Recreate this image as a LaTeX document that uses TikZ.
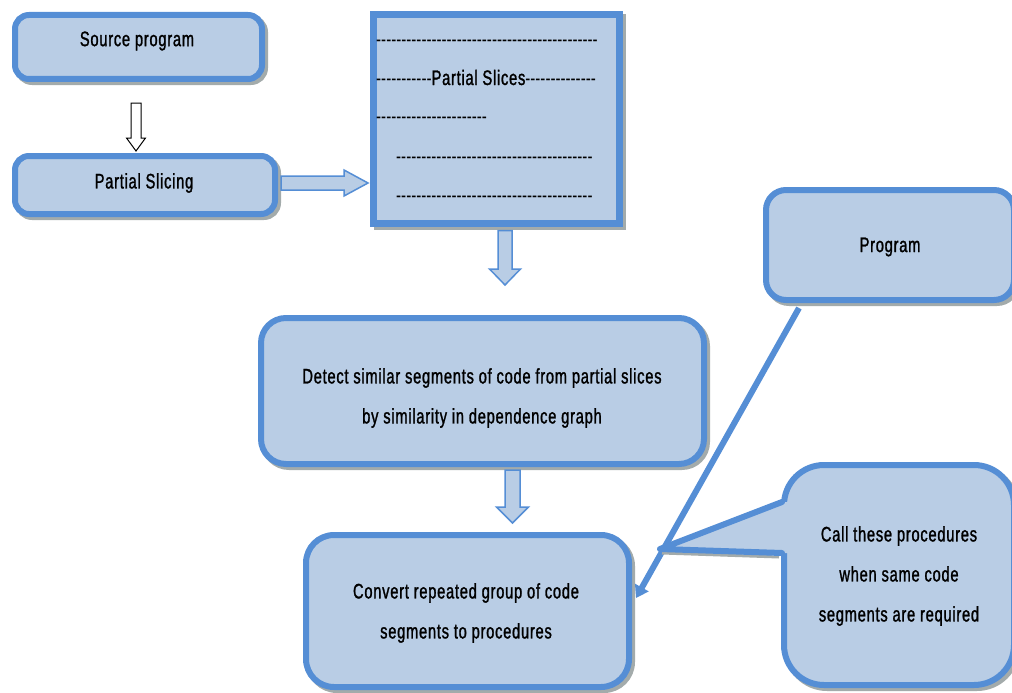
\documentclass[tikz,border=0pt]{standalone}
\usepackage{fontspec}
\setmainfont{Liberation Sans}[FakeStretch=0.70, LetterSpace=3.5, FakeBold=1.2]
\newfontfamily\dashfont{Liberation Sans}[FakeStretch=0.72]
\usetikzlibrary{calc,shadows,arrows.meta}
\definecolor{boxfill}{HTML}{B9CDE5}
\definecolor{boxline}{HTML}{558ED5}
\definecolor{shadowgray}{HTML}{A3ABAB}
% a row of single hyphens (kerns keep them from joining into dashes)
\newcount\hycount
\newcommand\hyph[1]{{\dashfont\hycount=0 \loop\ifnum\hycount<#1 -\kern0pt\advance\hycount by 1 \repeat}}
\begin{document}
\begin{tikzpicture}[x=1pt,y=-1pt,
  lbl/.style={font=\fontsize{21}{40}\selectfont, align=center, inner sep=0pt},
  dashrow/.style={font=\fontsize{21}{40}\selectfont, anchor=base west, inner sep=0pt},
  panel/.style={draw=boxline, fill=boxfill, line width=6pt, rounded corners=#1, inner sep=0pt,
    drop shadow={shadow xshift=3pt, shadow yshift=-3pt, fill=shadowgray, draw=shadowgray, line width=6pt, opacity=1}},
  blockarrow/.style={fill=boxfill, draw=boxline, line width=1.5pt, line join=miter},
  hollowarrow/.style={fill=white, draw=black, line width=1pt, line join=miter}]
\useasboundingbox (0,0) rectangle (1012,693);

% boxes
\node[panel=14pt, minimum width=247pt, minimum height=64pt] (src) at (138.5,47) {};
\node[panel=14pt, minimum width=260pt, minimum height=58pt] (slc) at (145,185) {};
\node[panel=0pt, line width=7pt, minimum width=246pt, minimum height=209pt] (sl) at (496.5,119) {};
\node[panel=25pt, minimum width=443pt, minimum height=146pt] (det) at (482.5,391) {};
\node[panel=28pt, minimum width=323pt, minimum height=152pt] (conv) at (467.5,611) {};
\node[panel=20pt, minimum width=248pt, minimum height=110pt] (prog) at (890,245) {};
\node[panel=40pt, minimum width=230pt, minimum height=220pt] (call) at (899,575) {};

% texts
\node[lbl] (tsrc) at (137,41) {Source program};
\node[lbl] (tslc) at (144,183) {Partial Slicing};
\node[lbl] (tprog) at (890,247) {Program};
\node[lbl] (tdet) at (482,398) {Detect similar segments of code from partial slices\\ by similarity in dependence graph};
\node[lbl] (tconv) at (466,613) {Convert repeated group of code\\ segments to procedures};
\node[lbl] (tcall) at (899,576) {Call these procedures\\ when same code\\ segments are required};

% rows of hyphens inside the slices box
\node[dashrow] (h1) at (376,47) {\hyph{44}};
\node[dashrow] (h2) at (376,85) {\hyph{11}Partial Slices\hyph{14}};
\node[dashrow] (h3) at (376,123) {\hyph{22}};
\node[dashrow] (h4) at (396,163) {\hyph{39}};
\node[dashrow] (h5) at (396,202) {\hyph{39}};

% hollow arrow: source program -> partial slicing
\coordinate (a0s) at ($(src.south)+(-2.5,21)$);
\coordinate (a0e) at ($(slc.north)+(-9,-2)$);
\draw[hollowarrow] ($(a0s)+(-5,0)$) -- ($(a0e)+(-5,-13)$) -- ($(a0e)+(-9.5,-13)$) -- (a0e)
  -- ($(a0e)+(9.5,-13)$) -- ($(a0e)+(5,-13)$) -- ($(a0s)+(5,0)$) -- cycle;

% block arrow: partial slicing -> slices
\coordinate (a1s) at ($(slc.east)+(3,-2)$);
\coordinate (a1e) at ($(sl.west)+(-2,64)$);
\draw[blockarrow] ($(a1s)+(0,-7)$) -- ($(a1e)+(-24,-7)$) -- ($(a1e)+(-24,-13)$) -- (a1e)
  -- ($(a1e)+(-24,13)$) -- ($(a1e)+(-24,7)$) -- ($(a1s)+(0,7)$) -- cycle;

% block arrow: slices -> detect
\coordinate (a2s) at ($(sl.south)+(8.5,3.5)$);
\coordinate (a2e) at ($(det.north)+(22.5,-30)$);
\draw[blockarrow] ($(a2s)+(-7,0)$) -- ($(a2e)+(-7,-16)$) -- ($(a2e)+(-15.5,-16)$) -- (a2e)
  -- ($(a2e)+(15.5,-16)$) -- ($(a2e)+(7,-16)$) -- ($(a2s)+(7,0)$) -- cycle;

% block arrow: detect -> convert
\coordinate (a3s) at ($(det.south)+(30,3)$);
\coordinate (a3e) at ($(conv.north)+(45,-9)$);
\draw[blockarrow] ($(a3s)+(-7.5,0)$) -- ($(a3e)+(-7.5,-16)$) -- ($(a3e)+(-16,-16)$) -- (a3e)
  -- ($(a3e)+(16,-16)$) -- ($(a3e)+(7.5,-16)$) -- ($(a3s)+(7.5,0)$) -- cycle;

% program -> convert
\draw[boxline, line width=6pt, -{Triangle[length=12pt,width=15pt]}]
  ($(prog.south west)+(36,5)$) -- ($(conv.east)+(4,-13)$);

% callout pointer
\coordinate (ptip) at ($(call.west)+(-121,-26)$);
\coordinate (pa) at ($(call.west)+(1,-73)$);
\coordinate (pb) at ($(call.west)+(1,-22)$);
\draw[shadowgray, line width=3pt] ($(ptip)+(2,4)$) -- ($(pb)+(-3,4)$);
\fill[boxfill] ($(pa)+(6,0)$) -- (pa) -- (ptip) -- (pb) -- ($(pb)+(6,0)$) -- cycle;
\draw[boxline, line width=6pt, line join=round, line cap=round] (pa) -- (ptip) -- (pb);
\end{tikzpicture}
\end{document}
